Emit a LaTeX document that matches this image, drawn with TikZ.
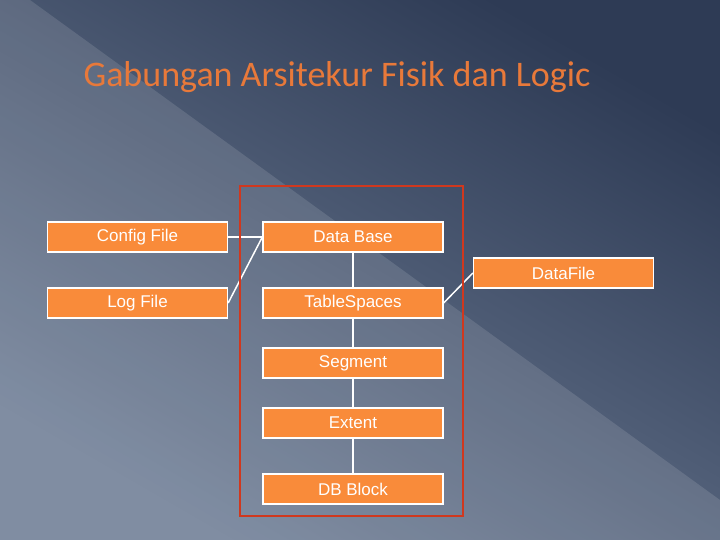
\documentclass[tikz,border=0pt]{standalone}
\usepackage{fontspec}
\setmainfont{Liberation Sans}
\newfontfamily\titlefont{Carlito}
\usetikzlibrary{shadings}
\begin{document}
\begin{tikzpicture}[x=1pt,y=-1pt,
  box/.style={draw=white,line width=1.3pt,fill=boxor,minimum width=180pt,minimum height=30pt,inner sep=0pt,text=white,font=\fontsize{17}{19}\selectfont},
  conn/.style={draw=white,line width=1.5pt}]
\definecolor{boxor}{HTML}{F98B3A}
\definecolor{titleor}{HTML}{E8793A}
\definecolor{bgA}{HTML}{2E3B55}
\definecolor{bgB}{HTML}{6F7E96}
\definecolor{frame}{HTML}{D0381E}
\useasboundingbox (0,0) rectangle (720,540);
\shade[top color=bgA,bottom color=bgB,shading angle=-30] (0,0) rectangle (720,540);
\fill[white,opacity=0.12] (0,0) -- (30,0) -- (720,500) -- (720,540) -- (0,540) -- cycle;
\node[text=titleor,font=\titlefont\fontsize{36}{40}\selectfont,anchor=west] (t) at (80,77) {Gabungan Arsitekur Fisik dan Logic};
\node[box] (cf) at (137.5,237) {Config File};
\node[box] (lf) at (137.5,303) {Log File};
\node[box] (db) at (353,237) {Data Base};
\node[box] (ts) at (353,303) {TableSpaces};
\node[box] (df) at (563.5,273) {DataFile};
\node[box] (sg) at (353,363) {Segment};
\node[box] (ex) at (353,423) {Extent};
\node[box] (bl) at (353,489) {DB Block};
\draw[conn] (cf.east) -- (db.west);
\draw[conn] (lf.east) -- (db.west);
\draw[conn] (ts.east) -- (df.west);
\draw[conn] (db) -- (ts);
\draw[conn] (ts) -- (sg);
\draw[conn] (sg) -- (ex);
\draw[conn] (ex) -- (bl);
\draw[draw=frame,line width=2.5pt] (240,186) rectangle (463,516);
\end{tikzpicture}
\end{document}
